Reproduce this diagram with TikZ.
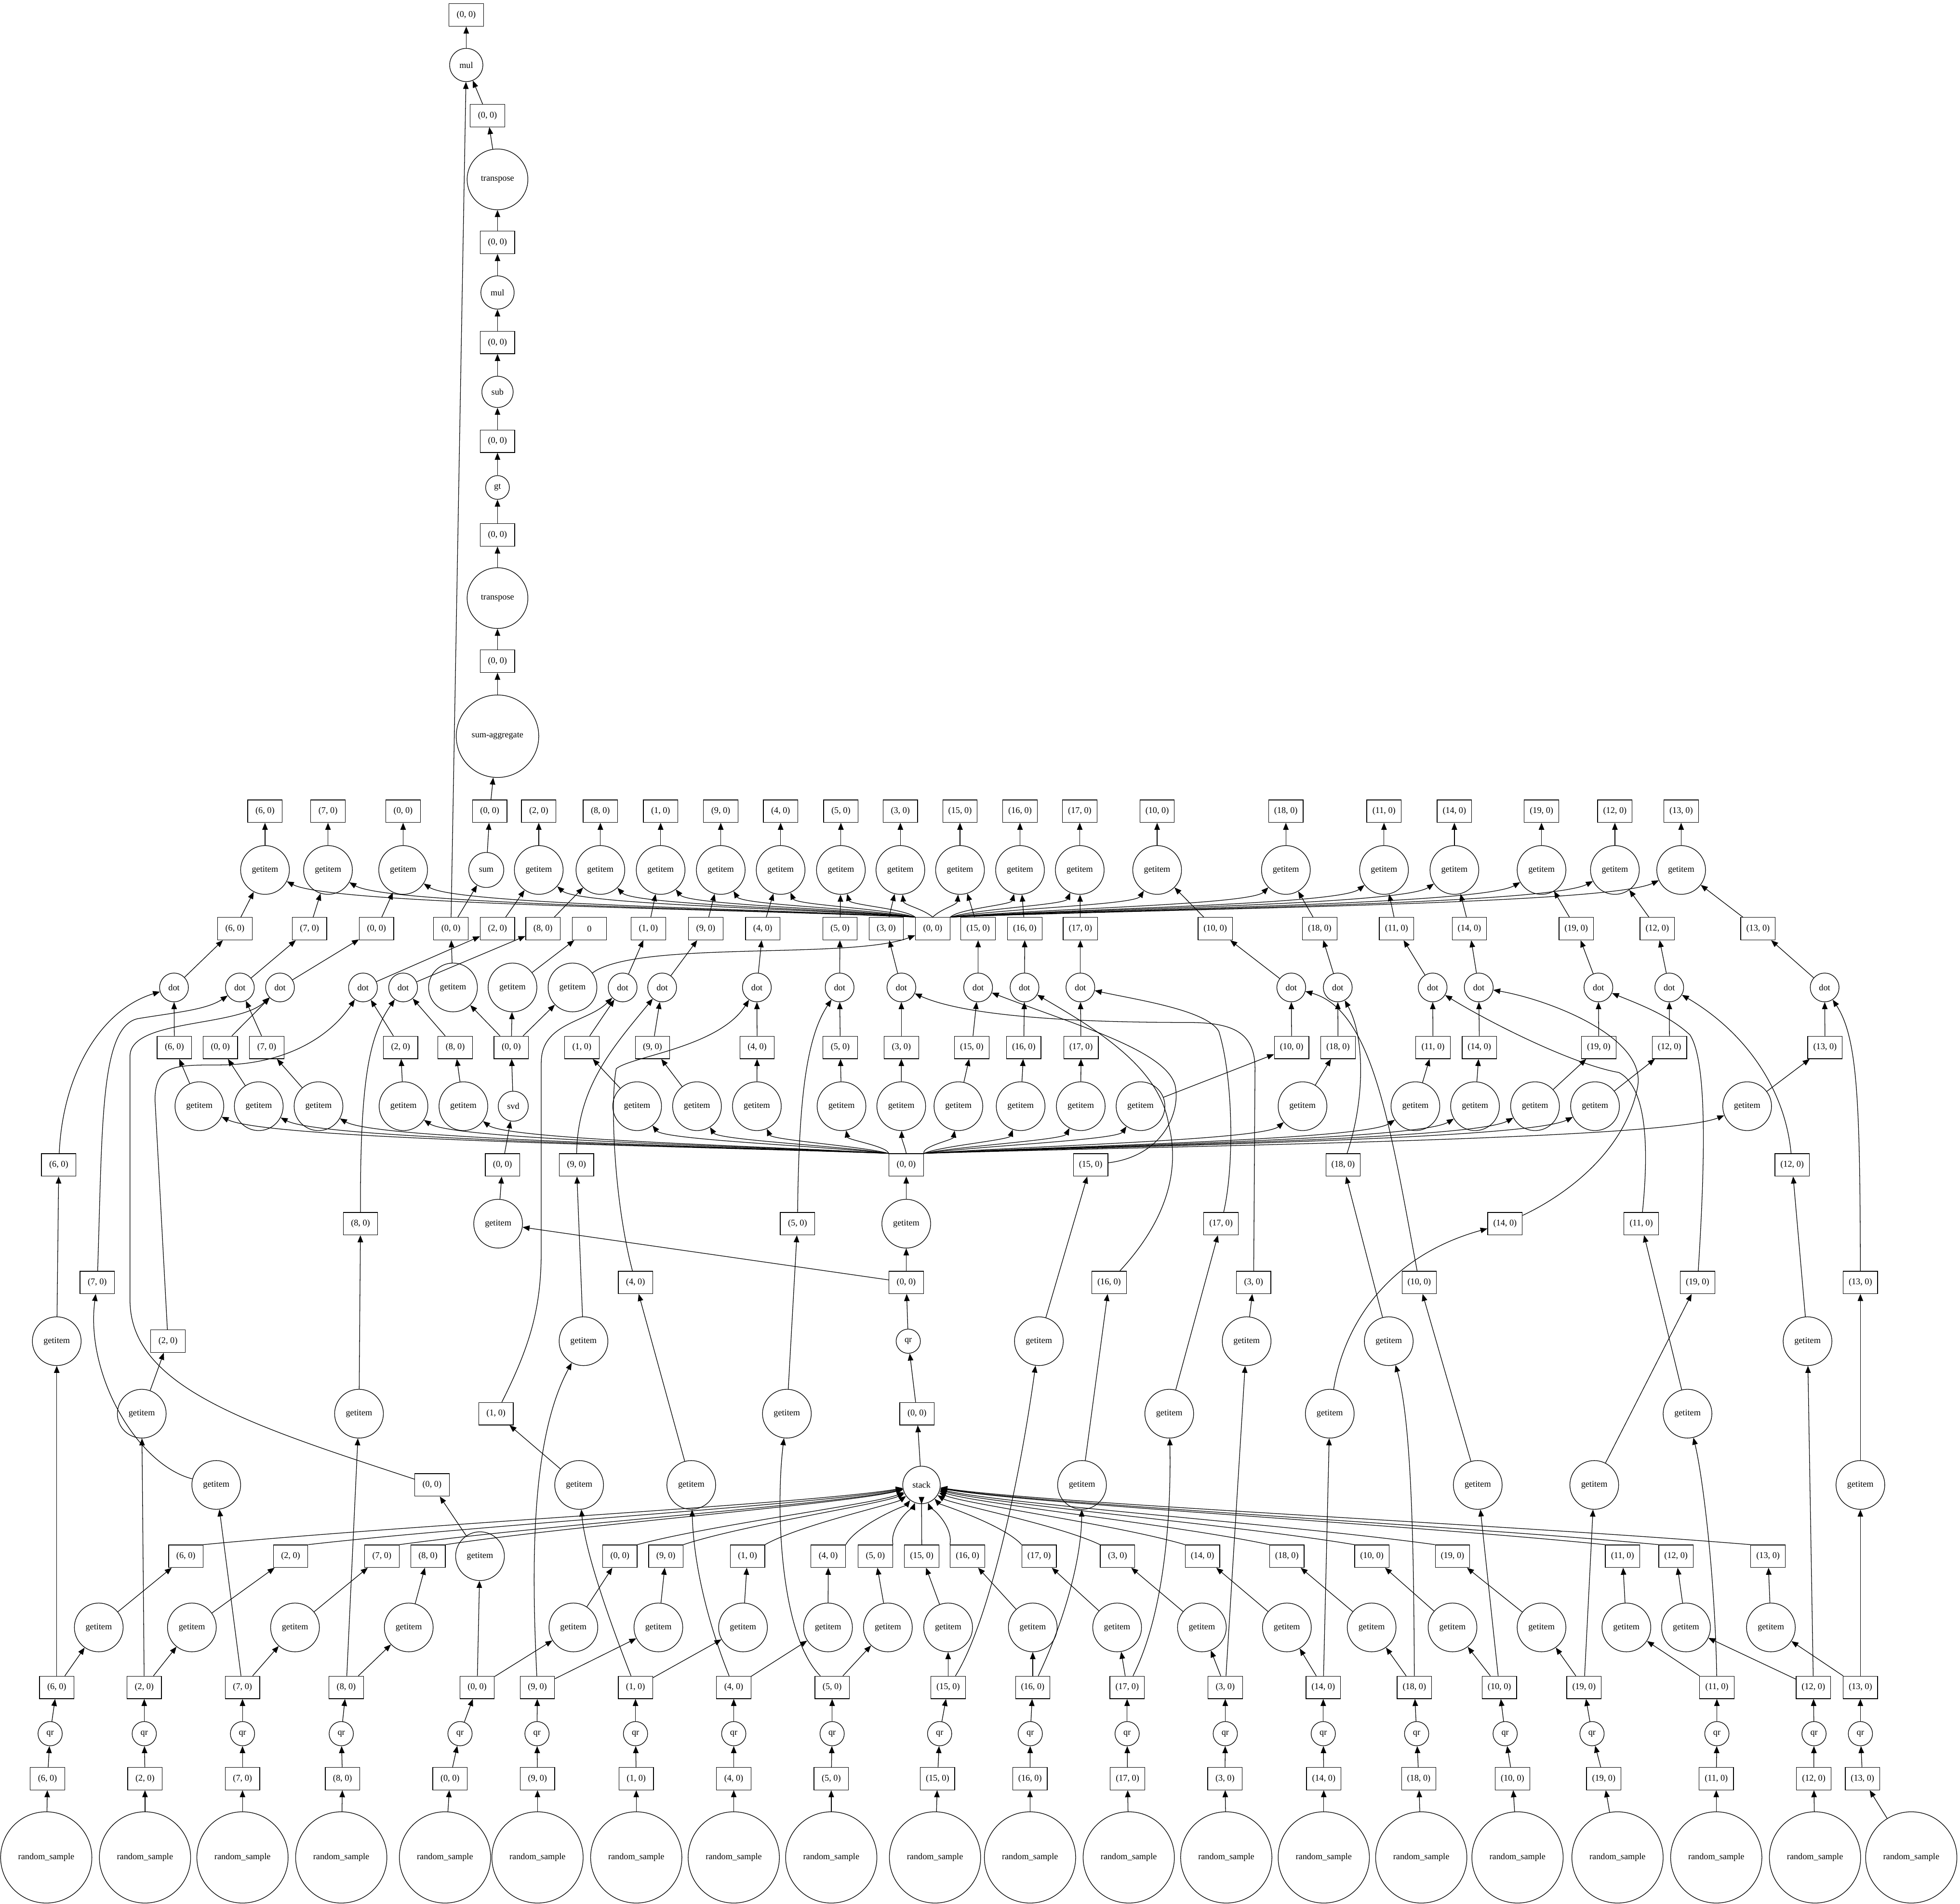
\documentclass[tikz,border=0pt]{standalone}
\usepackage{fontspec}
\setmainfont{Liberation Serif}
\usetikzlibrary{arrows.meta}

\tikzset{
  chunk/.style={draw, rectangle, minimum width=13.8mm, minimum height=9mm, inner sep=1pt},
  task/.style={draw, circle, inner sep=0pt, minimum size=#1},
  task/.default=19.5mm,
  dep/.style={-{Triangle[length=2.8mm, width=2.2mm]}},
}

\begin{document}
\begin{tikzpicture}[x=0.5mm, y=-0.5mm, line width=0.7pt, every node/.style={font=\fontsize{10}{12}\selectfont}]
  \useasboundingbox (0,0) rectangle (1568,1523);

  % Result chain
  \node[chunk] (out) at (373,12) {(0, 0)};
  \node[task=13.3mm] (mul1) at (373,52) {mul};
  \node[chunk] (b6) at (390,92.5) {(0, 0)};
  \node[task=24.3mm] (tr1) at (398,143.5) {transpose};
  \node[chunk] (b5) at (398,194) {(0, 0)};
  \node[task=13.3mm] (mul2) at (398,234) {mul};
  \node[chunk] (b4) at (398,274) {(0, 0)};
  \node[task=12.5mm] (sub) at (398,313.5) {sub};
  \node[chunk] (b3) at (398,353) {(0, 0)};
  \node[task=9.5mm] (gt) at (398,390) {gt};
  \node[chunk] (b2) at (398,428) {(0, 0)};
  \node[task=24.3mm] (tr2) at (398,478.5) {transpose};
  \node[chunk] (b1) at (398,529) {(0, 0)};
  \node[task=33mm] (agg) at (398,589) {sum-aggregate};
  \node[chunk] (sumb) at (391.8,649) {(0, 0)};
  \node[task=14mm] (sum) at (389,696) {sum};
  \foreach \a/\b in {sum/sumb, sumb/agg, agg/b1, b1/tr2, tr2/b2, b2/gt, gt/b3, b3/sub,
                     sub/b4, b4/mul2, mul2/b5, b5/tr1, tr1/b6, b6/mul1, mul1/out}
    \draw[dep] (\a) -- (\b);

  % SVD of the small factor
  \node[task] (gR) at (398.5,979) {getitem};
  \node[chunk] (bR) at (402,932) {(0, 0)};
  \node[task=12mm] (svd) at (410.6,885) {svd};
  \node[chunk] (tsvd) at (409,838) {(0, 0)};
  \node[task] (gU) at (362.4,790) {getitem};
  \node[task] (gS) at (410,790) {getitem};
  \node[task] (gV) at (458,790) {getitem};
  \node[chunk] (bU) at (360.7,743) {(0, 0)};
  \node[chunk] (bS) at (471.5,743) {0};
  \node[chunk] (hubV) at (746.2,743) {(0, 0)};

  % Stacked R factors
  \node[task=15mm] (stack) at (737.2,1188) {stack};
  \node[chunk] (stk) at (733.6,1131) {(0, 0)};
  \node[task=9.7mm] (qrS) at (726.6,1073) {qr};
  \node[chunk] (tS) at (725,1026) {(0, 0)};
  \node[task] (gQ) at (725,979) {getitem};
  \node[chunk] (hubQ) at (725,932) {(0, 0)};

  \foreach \a/\b in {stack/stk, stk/qrS, qrS/tS, tS/gQ, tS/gR, gQ/hubQ, gR/bR, bR/svd,
                     svd/tsvd, tsvd/gU, tsvd/gS, tsvd/gV, gU/bU, gS/bS, bU/sum, bU/mul1}
    \draw[dep] (\a) -- (\b);
  \draw[dep] (gV) .. controls (510,752) and (680,768) .. (hubV);

  % Blocks: random_sample -> qr -> R part into stack
  \foreach \k/\xs/\xa/\xq/\xt/\xr/\xb/\an in {
      6/37/38/40.1/45.4/79/148.7/north east,
      2/116/116/115.4/115.4/153.5/232.5/north east,
      7/194/194/194/194/236/305.5/north east,
      8/273/274/273/277/327/342.4/north east,
      0/356/360/368/381.7/458.7/495.9/north east,
      9/430/430/429.6/429.9/526.7/532.7/north east,
      1/509/509/508.4/508.4/594.4/598/north east,
      4/587/587/587/587/662.4/662.6/north east,
      5/665/665/665.7/665.7/710.3/700.3/north east,
      15/748/750/751.7/758.5/758.5/737.4/north,
      16/824/824/824.2/826.2/826.2/774/north west,
      17/903/902/901.7/901.7/893.7/831.3/north west,
      3/981/980/980.2/980.2/961.5/894/north west,
      14/1059/1059/1058.6/1058.6/1029.5/962/north west,
      18/1137/1135/1133.3/1131.5/1097.3/1029.5/north west,
      10/1214/1210/1204.1/1199.5/1162/1097.5/north west,
      19/1294/1283/1273.6/1267.2/1233.2/1162/north west,
      11/1373/1373/1373.5/1373.5/1301.1/1298/north west,
      12/1452/1451/1451.2/1450.7/1348.8/1340.8/north west,
      13/1529/1490/1488.3/1488.3/1416.7/1414.4/north west} {
    \node[task=36.5mm] (rs\k) at (\xs,1486) {random\_sample};
    \node[chunk] (a\k) at (\xa,1423) {(\k, 0)};
    \node[task=9.7mm] (qr\k) at (\xq,1387) {qr};
    \node[chunk] (t\k) at (\xt,1350) {(\k, 0)};
    \node[task] (r\k) at (\xr,1302) {getitem};
    \node[chunk] (rb\k) at (\xb,1245) {(\k, 0)};
    \draw[dep] (rs\k) -- (a\k);
    \draw[dep] (a\k) -- (qr\k);
    \draw[dep] (qr\k) -- (t\k);
    \draw[dep] (t\k) -- (r\k);
    \draw[dep] (r\k) -- (rb\k);
    \pgfmathsetmacro\ca{\xb+0.3*(737.2-\xb)}
    \pgfmathsetmacro\cb{\xb+0.85*(737.2-\xb)}
    \draw[dep] (rb\k.\an) .. controls (\ca,1220) and (\cb,1203) .. (stack);
  }

  % Q part of each block
  \foreach \k/\xq/\yq/\xb/\yb in {
      6/45.4/1073/47/932, 2/113.4/1131/134.4/1073, 7/173/1188/77.8/1026,
      8/287.2/1131/288.4/979, 0/384/1245/345.6/1188, 9/466.8/1073/461.2/932,
      1/463.3/1188/396.8/1131, 4/553/1188/508.4/1026, 5/629.5/1131/638/979,
      15/831.1/1073/872.5/932, 16/865.6/1188/887.3/1026, 17/935.4/1131/976.8/979,
      3/997.3/1073/1002.9/1026, 14/1063.8/1131/1204/979, 18/1111/1073/1074.5/932,
      10/1182.2/1188/1135.4/1026, 19/1275.4/1188/1358/1026, 11/1350/1131/1313/979,
      12/1446/1073/1433.7/932, 13/1488.3/1188/1488.3/1026} {
    \node[task] (q\k) at (\xq,\yq) {getitem};
    \node[chunk] (qb\k) at (\xb,\yb) {(\k, 0)};
  }

  % Slices, dots and final getitems
  \foreach \k/\xs/\xsb/\xd/\xdb/\xu/\as/\au in {
      6/159.5/139.5/139.2/187.9/212/north west/north west,
      0/207/176.3/224/301.2/322.5/north west/north west,
      7/254.8/213.4/191.9/247.6/262.4/north west/north west,
      2/322.8/320.5/290.4/398/431/north west/north west,
      8/370.7/364.2/322.5/434.4/480.3/north west/north west,
      1/509.7/465.5/498.1/518.7/528.5/north west/north west,
      9/557.6/522/529.7/564.6/576.6/north west/north west,
      4/605.5/605.7/605.5/610.2/624.5/north west/north west,
      5/673.2/672.2/671.7/672/672.7/north west/north west,
      3/721/721.1/721.1/709/720.3/north/north,
      15/766.7/777.4/782.5/782.5/768/north east/north,
      16/816.5/819/819.6/819.8/816/north east/north east,
      17/864.6/864.8/864.3/864.3/863.8/north east/north east,
      10/912.4/1033.3/1033/972.2/925.7/north east/north east,
      18/1042/1070.4/1070.2/1055.8/1028.7/north east/north east,
      11/1132.3/1146.4/1146.1/1117.2/1107.2/north east/north east,
      14/1180/1183.5/1183/1175.5/1163.5/north east/north east,
      19/1228/1279/1278.7/1261/1233.2/north east/north east,
      12/1276/1335.6/1335.4/1325.8/1291.9/north east/north east,
      13/1397.7/1460/1459.7/1406.4/1344.9/north east/north east} {
    \node[task] (s\k) at (\xs,885) {getitem};
    \node[chunk] (sb\k) at (\xsb,838) {(\k, 0)};
    \node[task=11.5mm] (d\k) at (\xd,790) {dot};
    \node[chunk] (db\k) at (\xdb,743) {(\k, 0)};
    \node[task] (u\k) at (\xu,696) {getitem};
    \node[chunk] (ub\k) at (\xu,649) {(\k, 0)};
    \draw[dep] (s\k) -- (sb\k);
    \draw[dep] (sb\k) -- (d\k);
    \draw[dep] (d\k) -- (db\k);
    \draw[dep] (db\k) -- (u\k);
    \draw[dep] (u\k) -- (ub\k);
    \pgfmathsetmacro\ca{\xs+0.7*(725-\xs)}
    \pgfmathsetmacro\cb{\xs+0.1*(725-\xs)}
    \draw[dep] (hubQ.\as) .. controls (\ca,917) and (\cb,912) .. (s\k);
    \pgfmathsetmacro\ca{\xu+0.7*(746.2-\xu)}
    \pgfmathsetmacro\cb{\xu+0.1*(746.2-\xu)}
    \draw[dep] (hubV.\au) .. controls (\ca,727) and (\cb,724) .. (u\k);
  }

  % Q blocks out of each qr
  \foreach \k in {6,2,7,8,0,3,14,10,19,12,13}
    \draw[dep] (t\k) -- (q\k);
  \draw[dep] (t9) .. controls (425,1250) and (425,1150) .. (q9);
  \draw[dep] (t1) .. controls (485,1290) and (468,1240) .. (q1);
  \draw[dep] (t4) .. controls (565,1295) and (555,1250) .. (q4);
  \draw[dep] (t5) .. controls (625,1310) and (620,1210) .. (q5);
  \draw[dep] (t15) .. controls (790,1300) and (815,1190) .. (q15);
  \draw[dep] (t16) .. controls (850,1300) and (865,1250) .. (q16);
  \draw[dep] (t17) .. controls (932,1290) and (937,1210) .. (q17);
  \draw[dep] (t18) .. controls (1131,1250) and (1130,1140) .. (q18);
  \draw[dep] (t11) .. controls (1372,1260) and (1362,1180) .. (q11);

  \foreach \k in {6,2,8,0,9,1,4,5,15,16,17,3,18,10,19,11,12,13}
    \draw[dep] (q\k) -- (qb\k);
  \draw[dep] (q7) .. controls (110,1172) and (68,1100) .. (qb7);
  \draw[dep] (q14) .. controls (1075,1060) and (1110,1005) .. (qb14);

  % Q blocks into the dots
  \draw[dep] (qb6) .. controls (50,860) and (80,808) .. (d6);
  \draw[dep] (qb7) .. controls (82,900) and (80,822) .. (110,815) .. controls (140,810) and (165,808) .. (d7);
  \draw[dep] (qb0) .. controls (200,1140) and (104,1110) .. (104,1040) -- (104,845) .. controls (104,815) and (190,822) .. (d0);
  \draw[dep] (qb2) -- (124,880) .. controls (124,852) and (140,852) .. (175,852) .. controls (225,852) and (262,832) .. (d2);
  \draw[dep] (qb8) .. controls (288,860) and (296,828) .. (d8);
  \draw[dep] (qb1) .. controls (425,1075) and (433,1045) .. (433,1000) -- (433,850) .. controls (433,818) and (470,818) .. (d1);
  \draw[dep] (qb9) .. controls (462,870) and (490,838) .. (d9);
  \draw[dep] (qb4) .. controls (491,960) and (488,880) .. (493,855) .. controls (505,845) and (575,838) .. (d4);
  \draw[dep] (qb5) .. controls (639,880) and (645,830) .. (d5);
  \draw[dep] (qb15) .. controls (930,925) and (945,890) .. (940,868) .. controls (932,840) and (860,820) .. (d15);
  \draw[dep] (qb16) .. controls (930,980) and (945,940) .. (935,900) .. controls (928,855) and (880,825) .. (d16);
  \draw[dep] (qb17) .. controls (988,930) and (986,860) .. (975,825) .. controls (965,808) and (910,800) .. (d17);
  \draw[dep] (qb3) -- (1004,855) .. controls (1004,825) and (985,818) .. (950,818) .. controls (850,818) and (770,812) .. (d3);
  \draw[dep] (qb18) .. controls (1092,880) and (1092,830) .. (d18);
  \draw[dep] (qb10) .. controls (1112,900) and (1098,808) .. (d10);
  \draw[dep] (qb14) .. controls (1255,955) and (1300,920) .. (1310,870) .. controls (1318,830) and (1240,800) .. (d14);
  \draw[dep] (qb11) .. controls (1319,920) and (1318,870) .. (1295,858) .. controls (1260,852) and (1195,820) .. (d11);
  \draw[dep] (qb19) .. controls (1364,930) and (1366,850) .. (1352,828) .. controls (1335,812) and (1310,803) .. (d19);
  \draw[dep] (qb12) .. controls (1428,870) and (1395,825) .. (d12);
  \draw[dep] (qb13) .. controls (1488,880) and (1486,830) .. (d13);
\end{tikzpicture}
\end{document}
